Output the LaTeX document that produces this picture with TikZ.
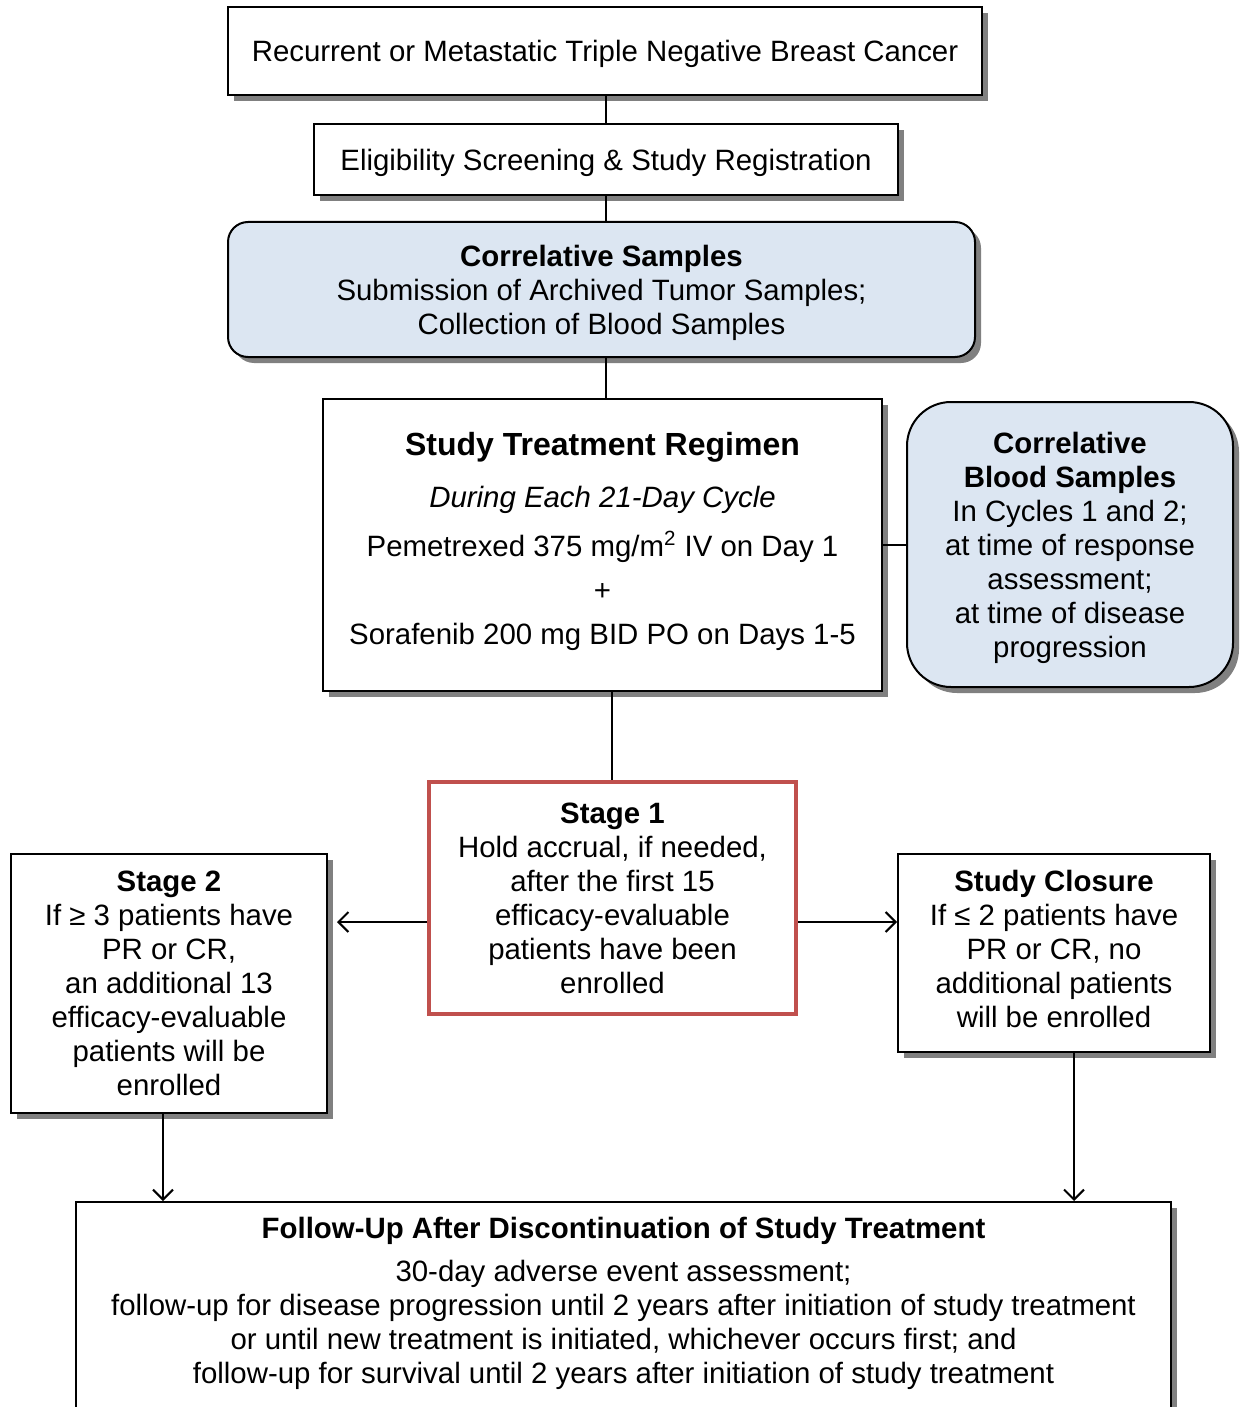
\documentclass[tikz,border=0pt]{standalone}
\usepackage{fontspec}
\setmainfont{Liberation Sans}
\usetikzlibrary{arrows.meta,shadows,positioning}
\definecolor{boxblue}{HTML}{DCE6F2}
\definecolor{stagered}{HTML}{C0504D}
\definecolor{shadowgray}{HTML}{808080}

\begin{document}
\begin{tikzpicture}[x=0.5pt,y=-0.5pt,
   font=\fontsize{14.7}{17}\selectfont,
   every node/.style={align=center,inner sep=0pt,text depth=0pt},
   plainbox/.style={draw,line width=1pt,fill=white,
      drop shadow={shadow xshift=3pt,shadow yshift=-3pt,fill=shadowgray,opacity=1}},
   bluebox/.style={plainbox,fill=boxblue},
   stagebox/.style={draw=stagered,line width=2pt,fill=white},
   link/.style={line width=1pt},
   flow/.style={line width=1pt,-{Straight Barb[length=5pt,width=10pt]}}]
\useasboundingbox (0,0) rectangle (1239,1407);

% main column
\node[plainbox,minimum width=377pt,minimum height=44pt] (cancer) at (605,51)
   {Recurrent or Metastatic Triple Negative Breast Cancer};
\node[plainbox,minimum width=292pt,minimum height=35.5pt] (elig) at (606,159.5)
   {Eligibility Screening \& Study Registration};
\node[bluebox,rounded corners=10pt,minimum width=373.5pt,minimum height=67.5pt] (samples) at (601.5,289.5)
   {\textbf{Correlative Samples}\\Submission of Archived Tumor Samples;\\Collection of Blood Samples};
\node[plainbox,minimum width=279.5pt,minimum height=146pt,text depth=7pt] (regimen) at (602.5,545)
   {{\fontsize{16}{19}\selectfont\bfseries Study Treatment Regimen}\\[9pt]
    \textit{During Each 21-Day Cycle}\\[7.5pt]
    Pemetrexed 375 mg/m\textsuperscript{2} IV on Day 1\\[5pt]
    +\\[5pt]
    Sorafenib 200 mg BID PO on Days 1-5};
\node[bluebox,rounded corners=22pt,minimum width=163pt,minimum height=142.5pt] (blood) at (1070,544.5)
   {\textbf{Correlative}\\\textbf{Blood Samples}\\In Cycles 1 and 2;\\at time of response\\assessment;\\at time of disease\\progression};

% stages
\node[stagebox,minimum width=183.5pt,minimum height=116pt] (stage1) at (612.5,898)
   {\textbf{Stage 1}\\Hold accrual, if needed,\\after the first 15\\efficacy-evaluable\\patients have been\\enrolled};
\node[plainbox,minimum width=158pt,minimum height=129.5pt] (stage2) at (169,983.5)
   {\textbf{Stage 2}\\If ≥ 3 patients have\\PR or CR,\\an additional 13\\efficacy-evaluable\\patients will be\\enrolled};
\node[plainbox,minimum width=156pt,minimum height=99pt,text depth=4pt] (closure) at (1054,953)
   {\textbf{Study Closure}\\If ≤ 2 patients have\\PR or CR, no\\additional patients\\will be enrolled};

% follow-up
\node[plainbox,minimum width=547.5pt,minimum height=120pt] (follow) at (623.5,1322) {};
\node (followtext) at (623.5,1300.5)
   {\textbf{Follow-Up After Discontinuation of Study Treatment}\\[4.5pt]
    30-day adverse event assessment;\\
    follow-up for disease progression until 2 years after initiation of study treatment\\
    or until new treatment is initiated, whichever occurs first; and\\
    follow-up for survival until 2 years after initiation of study treatment};

% connectors
\draw[link] (606,0 |- cancer.south) -- (606,0 |- elig.north);
\draw[link] (606,0 |- elig.south) -- (606,0 |- samples.north);
\draw[link] (606,0 |- samples.south) -- (606,0 |- regimen.north);
\draw[link] (regimen.east) -- (regimen.east -| blood.west);
\draw[link] (612,0 |- regimen.south) -- (612,0 |- stage1.north);
\draw[flow] (stage1.west |- 0,922) -- ([xshift=4.5pt]stage2.east |- 0,922);
\draw[flow] (stage1.east |- 0,922) -- (closure.west |- 0,922);
\draw[flow] (163,0 |- stage2.south) -- (163,0 |- follow.north);
\draw[flow] (1074,0 |- closure.south) -- (1074,0 |- follow.north);
\end{tikzpicture}
\end{document}
